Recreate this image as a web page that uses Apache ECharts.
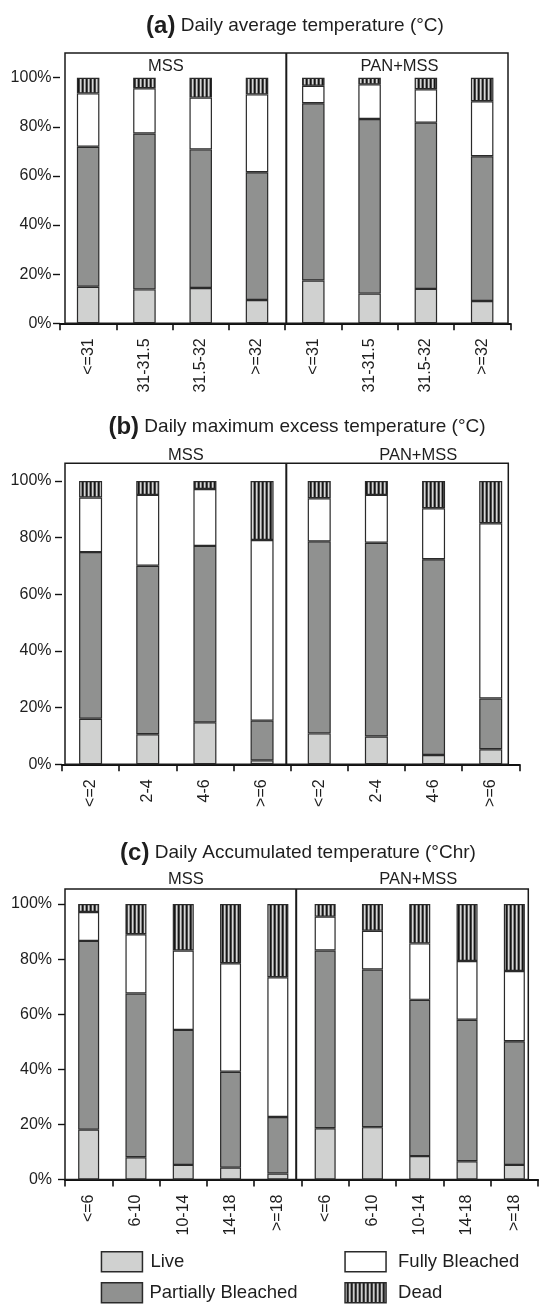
<!DOCTYPE html>
<html><head><meta charset="utf-8">
<script src="https://cdn.jsdelivr.net/npm/echarts@6/dist/echarts.min.js"></script>
<style>html,body{margin:0;padding:0;background:#fff}#c{width:539px;height:1307px}</style>
</head><body><div id="c"></div>
<script>
// Categories
const catsA = ['<=31','31-31.5','31.5-32','>=32','<=31','31-31.5','31.5-32','>=32'];
const catsB = ['<=2','2-4','4-6','>=6','<=2','2-4','4-6','>=6'];
const catsC = ['<=6','6-10','10-14','14-18','>=18','<=6','6-10','10-14','14-18','>=18'];
const groups = ['MSS','PAN+MSS'];
const seriesNames = ['Live','Partially Bleached','Fully Bleached','Dead'];
const yTicks = [0,20,40,60,80,100];

// (a) Daily average temperature – segment shares (%), MSS then PAN+MSS
const liveA    = [14.9,13.8,14.4, 9.5, 17.4,12.1,14.0, 9.1];
const partialA = [57.0,63.5,56.4,52.0, 72.2,71.1,67.7,58.9];
const fullyA   = [21.7,18.4,21.1,31.7,  7.1,14.1,13.6,22.4];
const deadA    = [ 6.4, 4.3, 8.1, 6.8,  3.3, 2.7, 4.7, 9.6];

// (b) Daily maximum excess temperature
const liveB    = [16.1,10.6,14.8, 1.4, 10.9, 9.8, 3.3, 5.3];
const partialB = [58.8,59.5,62.3,14.0, 67.8,68.4,69.1,17.9];
const fullyB   = [19.3,25.0,20.1,63.8, 15.2,16.9,18.0,61.9];
const deadB    = [ 5.8, 4.9, 2.8,20.8,  6.1, 4.9, 9.6,14.9];

// (c) Daily accumulated temperature
const liveC    = [18.1, 8.1, 5.3, 4.3, 2.2, 18.6,19.0, 8.5, 6.6, 5.3];
const partialC = [68.5,59.4,49.0,34.8,20.5, 64.5,57.2,56.7,51.4,44.9];
const fullyC   = [10.5,21.5,28.8,39.4,50.7, 12.3,14.1,20.5,21.3,25.5];
const deadC    = [ 2.9,11.0,16.9,21.5,26.6,  4.6, 9.7,14.3,20.7,24.3];

const titles = [
  ['(a)','Daily average temperature (°C)'],
  ['(b)','Daily maximum excess temperature (°C)'],
  ['(c)','Daily Accumulated temperature (°Chr)']
];

// stripe pattern for "Dead"
const pc = document.createElement('canvas');
pc.width = 4; pc.height = 4;
const g = pc.getContext('2d');
const stripeCols = ['#d6d6d6','#8a8a8a','#151515','#4a4a4a'];
stripeCols.forEach((c,i)=>{ g.fillStyle=c; g.fillRect(i,0,1,4); });
const deadFill = {image: pc, repeat: 'repeat'};

const fills = ['#d0d1d0', '#909190', '#ffffff', deadFill];
const FONT = '"Liberation Sans", Arial, Helvetica, sans-serif';
const INK = '#1e1e1e';

const panels = [
  {cats: catsA, data: [liveA, partialA, fullyA, deadA], grid:{left:60, right:28.7, top:77.7, height:245.6}, bw:22.5, ylm:8.5,
   box:[65,53,508,323.3], div:286.3, grpY:66, grpX:[166,399.5], title:[295,26]},
  {cats: catsB, data: [liveB, partialB, fullyB, deadB], grid:{left:62, right:19.7, top:481, height:283.3}, bw:23, ylm:10.5,
   box:[65,463.3,508.3,764.3], div:286.3, grpY:455.7, grpX:[186,418.2], title:[297,427]},
  {cats: catsC, data: [liveC, partialC, fullyC, deadC], grid:{left:65, right:1, top:904, height:275.5}, bw:21, ylm:13,
   box:[65,889,528.3,1179.5], div:296.2, grpY:879.3, grpX:[186,418.2], title:[298,853]}
];

const grid = [], xAxis = [], yAxis = [], series = [], graphic = [];
panels.forEach((p, k) => {
  grid.push(p.grid);
  xAxis.push({
    type:'category', gridIndex:k, data:p.cats,
    axisLine:{lineStyle:{color:'#111', width:2}},
    axisTick:{show:true, inside:false, length:7, lineStyle:{color:'#111', width:1.6}},
    axisLabel:{rotate:90, fontSize:16, fontFamily:FONT, color:INK, margin:15, interval:0}
  });
  yAxis.push({
    type:'value', gridIndex:k, min:0, max:100, interval:20,
    axisLine:{show:false}, splitLine:{show:false},
    axisTick:{show:true, length:7, lineStyle:{color:'#111', width:1.4}},
    axisLabel:{formatter:'{value}%', fontSize:16, fontFamily:FONT, color:INK, margin:p.ylm}
  });
  seriesNames.forEach((nm, s) => {
    series.push({
      type:'bar', name:nm, xAxisIndex:k, yAxisIndex:k, stack:'s'+k,
      data:p.data[s], barWidth:p.bw, silent:true,
      itemStyle:{color:fills[s], borderColor:'#2a2a2a', borderWidth:1.2},
      z: 3
    });
  });
  const [x0,y0,x1,y1] = p.box;
  graphic.push({type:'rect', shape:{x:x0, y:y0, width:x1-x0, height:y1-y0}, style:{fill:'none', stroke:'#1a1a1a', lineWidth:1.5}, z:1, silent:true});
  graphic.push({type:'line', shape:{x1:p.div, y1:y0, x2:p.div, y2:y1}, style:{stroke:'#1a1a1a', lineWidth:2}, z:1, silent:true});
  groups.forEach((gname, i) => {
    graphic.push({type:'text', x:p.grpX[i], y:p.grpY, style:{text:gname, align:'center', verticalAlign:'middle', font:'16.5px ' + FONT, fill:INK}, silent:true});
  });
  graphic.push({type:'text', x:p.title[0], y:p.title[1], silent:true,
    style:{text:'{b|' + titles[k][0] + '} ' + titles[k][1], align:'center', verticalAlign:'middle',
      font:'19px ' + FONT, fill:INK,
      rich:{b:{fontSize:24, fontWeight:'bold', fontFamily:FONT, fill:INK, color:INK}}}});
});

const legendPos = [
  {name:'Live', left:100.7, top:1251, pad:3},
  {name:'Partially Bleached', left:100.7, top:1282, pad:2},
  {name:'Fully Bleached', left:344.3, top:1251, pad:7},
  {name:'Dead', left:344.3, top:1282, pad:7}
];
const legend = legendPos.map(l => ({
  data:[l.name], left:l.left, top:l.top, padding:0, icon:'rect', itemWidth:41, itemHeight:20,
  selectedMode:false,
  itemStyle:{borderColor:'#2a2a2a', borderWidth:1.5},
  textStyle:{fontSize:18.5, fontFamily:FONT, color:INK, padding:[0,0,0,l.pad], lineHeight:20}
}));

const chart = echarts.init(document.getElementById('c'), null, {renderer:'canvas'});
chart.setOption({
  backgroundColor:'#ffffff', animation:false,
  grid, xAxis, yAxis, series, graphic, legend
});
</script></body></html>
